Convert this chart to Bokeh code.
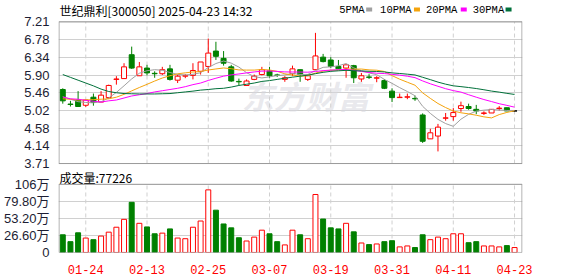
from bokeh.plotting import figure
from bokeh.models import Range1d, FixedTicker, Label
from bokeh.core.properties import value
from bokeh.embed import file_html
from bokeh.resources import INLINE

dates = ["01-21", "01-22", "01-23", "01-24", "01-27", "02-05", "02-06", "02-07", "02-10", "02-11",
         "02-12", "02-13", "02-14", "02-17", "02-18", "02-19", "02-20", "02-21", "02-24", "02-25",
         "02-26", "02-27", "02-28", "03-03", "03-04", "03-05", "03-06", "03-07", "03-10", "03-11",
         "03-12", "03-13", "03-14", "03-17", "03-18", "03-19", "03-20", "03-21", "03-24", "03-25",
         "03-26", "03-27", "03-28", "03-31", "04-01", "04-02", "04-03", "04-07", "04-08", "04-09",
         "04-10", "04-11", "04-14", "04-15", "04-16", "04-17", "04-18", "04-21", "04-22", "04-23"]

opens = [5.54, 5.18, 5.28, 5.15, 5.35, 5.23, 5.34, 5.79, 5.81, 6.40,
         5.88, 6.07, 5.94, 5.93, 6.05, 5.77, 5.87, 5.89, 5.99, 6.11,
         6.49, 6.31, 6.10, 5.74, 5.64, 5.79, 5.91, 6.00, 5.90, 5.79,
         5.93, 6.03, 5.79, 6.03, 6.34, 6.27, 6.11, 6.07, 6.13, 5.80,
         5.85, 5.82, 5.76, 5.50, 5.34, 5.35, 5.32, 4.91, 4.32, 4.39,
         4.83, 4.87, 5.07, 5.12, 5.05, 4.95, 4.96, 5.07, 5.09, 5.01]
highs = [5.57, 5.26, 5.50, 5.28, 5.44, 5.50, 5.66, 5.87, 6.19, 6.60,
         6.22, 6.15, 5.99, 6.10, 6.15, 5.91, 5.92, 6.19, 6.22, 6.80,
         6.72, 6.49, 6.15, 5.81, 5.79, 5.91, 6.10, 6.10, 5.93, 5.87,
         6.13, 6.03, 5.91, 6.94, 6.42, 6.34, 6.27, 6.15, 6.15, 5.95,
         5.92, 5.87, 5.80, 5.57, 5.44, 5.44, 5.39, 4.95, 4.57, 4.69,
         4.96, 5.08, 5.24, 5.19, 5.16, 5.00, 5.05, 5.13, 5.09, 5.03]
lows = [5.19, 5.12, 5.12, 5.11, 5.14, 5.23, 5.31, 5.66, 5.81, 6.05,
        5.88, 5.89, 5.83, 5.90, 5.76, 5.70, 5.82, 5.79, 5.91, 5.95,
        6.27, 6.13, 5.73, 5.65, 5.64, 5.77, 5.89, 5.83, 5.85, 5.73,
        5.87, 5.73, 5.75, 6.03, 6.21, 6.07, 6.05, 5.83, 5.70, 5.73,
        5.80, 5.72, 5.55, 5.23, 5.34, 5.30, 5.26, 4.22, 4.32, 4.01,
        4.77, 4.77, 4.99, 5.04, 4.93, 4.91, 4.96, 5.02, 5.01, 5.00]
closes = [5.26, 5.17, 5.12, 5.28, 5.22, 5.40, 5.64, 5.80, 6.10, 6.07,
          6.10, 5.95, 5.93, 6.03, 5.79, 5.87, 5.88, 6.01, 6.22, 6.44,
          6.36, 6.19, 5.75, 5.73, 5.75, 5.87, 6.03, 5.88, 5.89, 5.83,
          6.05, 5.91, 5.88, 6.37, 6.23, 6.11, 6.05, 6.15, 5.83, 5.88,
          5.84, 5.83, 5.57, 5.34, 5.35, 5.36, 5.31, 4.26, 4.47, 4.61,
          4.84, 4.97, 5.14, 5.07, 5.01, 4.96, 5.05, 5.08, 5.01, 5.01]

# volume, in 10k lots (万)
volumes = [27.6, 16.9, 30.7, 22.5, 20.0, 25.6, 31.7, 39.4, 51.7, 78.3,
           45.5, 39.9, 29.2, 30.2, 36.8, 22.5, 21.5, 39.4, 49.1, 97.7,
           66.0, 44.5, 38.4, 23.0, 17.9, 24.0, 34.8, 29.2, 16.9, 11.8,
           34.8, 27.6, 21.5, 90.5, 52.2, 38.4, 36.8, 45.5, 32.2, 14.8,
           12.3, 13.3, 16.9, 18.4, 8.7, 10.2, 7.7, 27.6, 20.0, 24.0,
           21.5, 29.2, 29.2, 15.3, 16.9, 10.2, 10.2, 8.7, 10.7, 7.72]

ma5 = [5.36, 5.30, 5.24, 5.22, 5.21, 5.238, 5.332, 5.468, 5.632, 5.802,
       5.942, 6.004, 6.03, 6.016, 5.96, 5.914, 5.90, 5.916, 5.954, 6.084,
       6.182, 6.244, 6.192, 6.094, 5.956, 5.858, 5.826, 5.852, 5.884, 5.90,
       5.936, 5.912, 5.912, 6.008, 6.088, 6.10, 6.128, 6.182, 6.074, 6.004,
       5.95, 5.906, 5.79, 5.692, 5.586, 5.49, 5.386, 5.124, 4.95, 4.802,
       4.698, 4.63, 4.806, 4.926, 5.006, 5.03, 5.046, 5.034, 5.022, 5.022]
ma10 = [5.31, 5.30, 5.28, 5.28, 5.29, 5.30, 5.31, 5.35, 5.42, 5.506,
        5.59, 5.668, 5.749, 5.824, 5.881, 5.928, 5.952, 5.973, 5.985, 6.022,
        6.048, 6.072, 6.054, 6.024, 6.02, 6.02, 6.035, 6.022, 5.989, 5.928,
        5.897, 5.869, 5.882, 5.946, 5.994, 6.018, 6.02, 6.047, 6.041, 6.046,
        6.025, 6.017, 5.986, 5.883, 5.795, 5.72, 5.646, 5.457, 5.321, 5.194,
        5.094, 5.008, 4.965, 4.938, 4.904, 4.864, 4.838, 4.92, 4.974, 5.014]
ma20 = [5.354, 5.31, 5.30, 5.27, 5.25, 5.23, 5.26, 5.28, 5.33, 5.38,
        5.41, 5.44, 5.48, 5.51, 5.54, 5.57, 5.61, 5.66, 5.70, 5.764,
        5.819, 5.870, 5.902, 5.924, 5.951, 5.974, 5.994, 5.998, 5.987, 5.975,
        5.973, 5.971, 5.968, 5.985, 6.007, 6.019, 6.028, 6.035, 6.015, 5.987,
        5.961, 5.943, 5.934, 5.915, 5.895, 5.869, 5.833, 5.752, 5.681, 5.62,
        5.56, 5.513, 5.476, 5.411, 5.35, 5.292, 5.242, 5.189, 5.148, 5.104]
ma30 = [5.91, 5.84, 5.77, 5.70, 5.63, 5.55, 5.49, 5.46, 5.44, 5.435,
        5.43, 5.43, 5.43, 5.435, 5.44, 5.46, 5.48, 5.50, 5.525, 5.54,
        5.56, 5.57, 5.60, 5.64, 5.67, 5.70, 5.74, 5.76, 5.79, 5.819,
        5.845, 5.870, 5.895, 5.931, 5.965, 5.989, 6.002, 6.014, 6.005, 5.999,
        5.99, 5.986, 5.974, 5.951, 5.936, 5.919, 5.90, 5.842, 5.784, 5.723,
        5.672, 5.631, 5.611, 5.589, 5.564, 5.534, 5.501, 5.475, 5.445, 5.418]

price_ticks = [3.71, 4.1475, 4.585, 5.0225, 5.46, 5.8975, 6.335, 6.7725, 7.21]
price_labels = ["3.71", "4.14", "4.58", "5.02", "5.46", "5.90", "6.34", "6.78", "7.21"]
vol_ticks = [0, 26.6, 53.2, 79.8, 106.4]
vol_labels = ["0", "26.60万", "53.20万", "79.80万", "106万"]
ma_names = ["5PMA", "10PMA", "20PMA", "30PMA"]
title_text = "世纪鼎利[300050] 2025-04-23 14:32"
vol_title = "成交量:77226"

# ---- layout geometry (canvas pixels) ----
W, H = 578, 276
FR_L, FR_R = 56, 522
PRICE_TOP, PRICE_BOT = 21.7, 165.0
VOL_TOP, VOL_BOT = 186.0, 255.0
X0, DX = 60.3, 7.69

RED = "#ff0000"
GREEN = "#008000"
MA_COLORS = ["#a0a0a0", "#f4a30c", "#ff00ff", "#00703a"]
GRID = "#d0d0d0"
BORDER = "#9a9a9a"
AXIS_TXT = "#1d1d33"

n = len(dates)
idx = list(range(n))
tick_pos = idx[3::8]
tick_txt = dates[3::8]

p_hi, p_lo = price_ticks[-1], price_ticks[0]
v_hi = vol_ticks[-1]
k = (PRICE_BOT - PRICE_TOP) / (p_hi - p_lo)          # px per price unit
y_end = p_hi + PRICE_TOP / k
y_start = p_lo - (VOL_BOT - PRICE_BOT) / k
kv = (VOL_BOT - VOL_TOP) / v_hi                         # px per volume unit
vol_end = VOL_BOT / kv


def x_at(px):
    return (px - X0) / DX


def y_at(py):
    return p_hi - (py - PRICE_TOP) / k


def vol_to_price(vv):
    return y_start + vv * kv / k


cand_col = [RED if c > o else (GREEN if c < o else "#000000") for o, c in zip(opens, closes)]
body_fill = [GREEN if c < o else ("#ffffff" if c > o else "#000000") for o, c in zip(opens, closes)]
tops = [max(o, c) for o, c in zip(opens, closes)]
bots = [min(o, c) for o, c in zip(opens, closes)]
vol_line = [GREEN if c < o else RED for o, c in zip(opens, closes)]
vol_fill = [GREEN if c < o else "#ffffff" for o, c in zip(opens, closes)]

p = figure(width=W, height=H, x_range=Range1d(x_at(FR_L), x_at(FR_R)),
           y_range=Range1d(y_start - 0.0005, y_end),
           output_backend="svg", toolbar_location=None, title=None,
           min_border_left=FR_L, min_border_right=W - FR_R, min_border_top=0,
           min_border_bottom=H - int(VOL_BOT))
p.extra_y_ranges = {"vol": Range1d(-0.03, vol_end)}
p.outline_line_color = None
p.background_fill_color = "#ffffff"

all_ticks = price_ticks + [vol_to_price(t) for t in vol_ticks]
all_labels = price_labels + vol_labels
p.yaxis.ticker = FixedTicker(ticks=all_ticks)
p.yaxis.major_label_overrides = {t: l for t, l in zip(all_ticks, all_labels)}
p.ygrid.ticker = FixedTicker(ticks=all_ticks)
p.ygrid.grid_line_color = GRID
p.xgrid.grid_line_color = None
p.xaxis.ticker = FixedTicker(ticks=tick_pos)
p.xaxis.major_label_overrides = {t: l for t, l in zip(tick_pos, tick_txt)}

for ax in (p.yaxis, p.xaxis):
    ax.axis_line_color = None
    ax.major_tick_line_color = None
    ax.minor_tick_line_color = None
p.yaxis.major_label_text_font = "Liberation Sans, Noto Sans CJK SC"
p.yaxis.major_label_text_font_size = "13px"
p.yaxis.major_label_text_color = AXIS_TXT
p.yaxis.major_label_standoff = 3
p.xaxis.major_label_text_font = "Liberation Mono"
p.xaxis.major_label_text_font_size = "12px"
p.xaxis.major_label_text_color = RED
p.xaxis.major_label_standoff = 6

# watermark
p.text(x=[x_at(240)], y=[y_at(96)], text=["东方财富"], text_font=value("Noto Sans CJK SC"),
       text_font_size="32px", text_font_style="bold italic", text_color="#d6d6de",
       text_alpha=0.55, text_baseline="middle")

# dashed vertical grid, per pane
m = len(tick_pos)
p.segment(x0=tick_pos, y0=[p_lo] * m, x1=tick_pos, y1=[p_hi] * m,
          line_color=GRID, line_dash="4 3", line_width=1)
p.segment(x0=tick_pos, y0=[0] * m, x1=tick_pos, y1=[v_hi] * m, y_range_name="vol",
          line_color=GRID, line_dash="4 3", line_width=1)

# candles
p.segment(x0=idx, y0=lows, x1=idx, y1=highs, line_color=cand_col, line_width=1)
p.vbar(x=idx, top=tops, bottom=bots, width=0.65, fill_color=body_fill, line_color=cand_col, line_width=1)

for vals, col in zip([ma5, ma10, ma20, ma30], MA_COLORS):
    p.line(idx, vals, line_color=col, line_width=1)

# volume
p.vbar(x=idx, top=volumes, bottom=0, width=0.65, fill_color=vol_fill, line_color=vol_line,
       line_width=1, y_range_name="vol")

# pane borders
xl, xr_ = x_at(FR_L + 0.5), x_at(FR_R - 0.5)
p.quad(left=[xl], right=[xr_], bottom=[p_lo], top=[p_hi], fill_color=None, line_color=BORDER, line_width=1)
p.quad(left=[xl], right=[xr_], bottom=[0], top=[v_hi], fill_color=None, line_color=BORDER,
       line_width=1, y_range_name="vol")

# header texts
p.add_layout(Label(x=x_at(57), y=y_at(1.5), text=title_text, text_font="Noto Sans CJK SC",
                   text_font_size="12px", text_color="#000000", text_baseline="top"))
leg_x = [338, 379, 425, 472]
sq_x = [368, 416, 463, 508]
for name, col, lx in zip(ma_names, MA_COLORS, leg_x):
    p.add_layout(Label(x=x_at(lx), y=y_at(3.5), text=name, text_font="Liberation Mono",
                       text_font_size="10.5px", text_color="#000000", text_baseline="top"))
p.rect(x=[x_at(s) for s in sq_x], y=[y_at(9)] * len(sq_x), width=6, height=4,
       width_units="screen", height_units="screen", fill_color=MA_COLORS, line_color=None)

p.add_layout(Label(x=x_at(57), y=y_at(170.5), text=vol_title, text_font="Noto Sans CJK SC",
                   text_font_size="12px", text_color="#000000", text_baseline="top"))

open("out.html", "w").write(file_html(p, INLINE))
